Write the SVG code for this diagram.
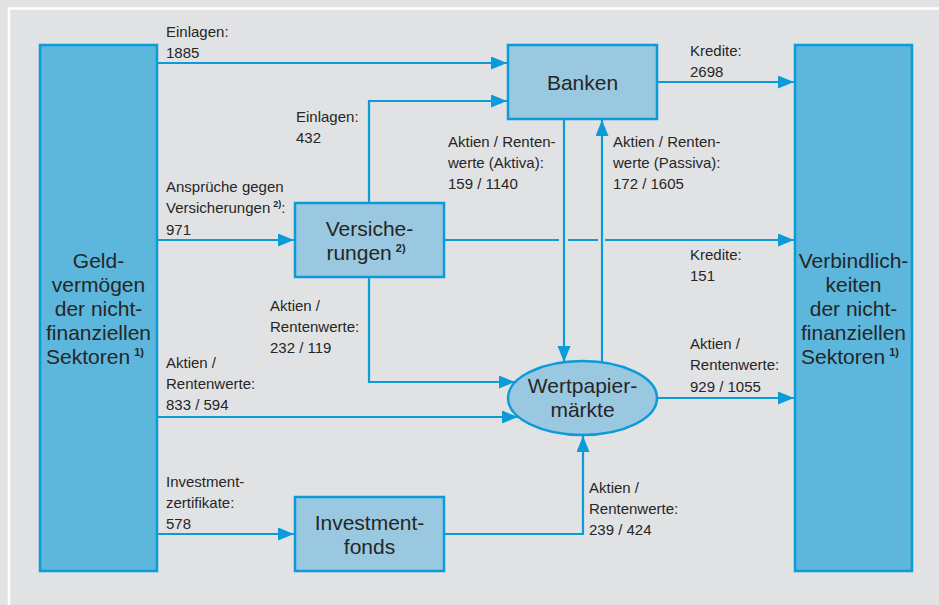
<svg xmlns="http://www.w3.org/2000/svg" width="939" height="605" viewBox="0 0 939 605">
<style>
.big{fill:#5db6dc;stroke:#0b9bd8;stroke-width:2.5}
.small{fill:#99c8e0;stroke:#0b9bd8;stroke-width:2.5}
.ln{fill:none;stroke:#0b9bd8;stroke-width:2.2}
.arr{marker-end:url(#ah)}
text{font-family:"Liberation Sans",Arial,sans-serif;fill:#262626}
.lbl{font-size:15px}
.nd{font-size:21px;text-anchor:middle}
.sup{font-size:11px;font-weight:bold}
</style>
<defs>
<marker id="ah" markerUnits="userSpaceOnUse" markerWidth="17" markerHeight="14" refX="16" refY="6.5" orient="auto">
<path d="M0,0 L16,6.5 L0,13 Z" fill="#0b9bd8"/>
</marker>
</defs>
<rect x="0" y="0" width="939" height="605" fill="#e1e2e4"/>
<path d="M9,605 V8.5 H939" fill="none" stroke="#ffffff" stroke-width="2.5"/>

<g id="connectors">
<path class="ln arr" d="M157,63 H507"/>
<path class="ln arr" d="M369,203 V101 H507"/>
<path class="ln arr" d="M157,240 H294"/>
<path class="ln" d="M444,240 H559 M568,240 H598"/>
<path class="ln arr" d="M605,240 H794"/>
<path class="ln arr" d="M564,119 V362"/>
<path class="ln arr" d="M602,362 V120"/>
<path class="ln arr" d="M657,82 H794"/>
<path class="ln arr" d="M369,277 V382 H515"/>
<path class="ln arr" d="M157,417 H518"/>
<path class="ln arr" d="M157,534 H294"/>
<path class="ln arr" d="M444,534 H583 V436"/>
<path class="ln arr" d="M657,398 H794"/>
</g>

<g id="geldvermoegen">
<rect class="big" x="40" y="45" width="117" height="526"/>
<text class="nd" x="98.5" y="268">Geld-</text>
<text class="nd" x="98.5" y="292">vermögen</text>
<text class="nd" x="98.5" y="316">der nicht-</text>
<text class="nd" x="98.5" y="340">finanziellen</text>
<text class="nd" x="95" y="364">Sektoren<tspan class="sup" dx="4" dy="-8">1)</tspan></text>
</g>

<g id="verbindlichkeiten">
<rect class="big" x="795" y="45" width="117" height="526"/>
<text class="nd" x="853.5" y="268">Verbindlich-</text>
<text class="nd" x="853.5" y="292">keiten</text>
<text class="nd" x="853.5" y="316">der nicht-</text>
<text class="nd" x="853.5" y="340">finanziellen</text>
<text class="nd" x="850" y="364">Sektoren<tspan class="sup" dx="4" dy="-8">1)</tspan></text>
</g>

<g id="banken">
<rect class="small" x="508" y="45" width="149" height="74"/>
<text class="nd" x="582.5" y="90">Banken</text>
</g>

<g id="versicherungen">
<rect class="small" x="295" y="203" width="149" height="74"/>
<text class="nd" x="369.5" y="236">Versiche-</text>
<text class="nd" x="366" y="260">rungen<tspan class="sup" dx="4" dy="-8">2)</tspan></text>
</g>

<g id="investmentfonds">
<rect class="small" x="295" y="497" width="149" height="74"/>
<text class="nd" x="369.5" y="530">Investment-</text>
<text class="nd" x="369.5" y="554">fonds</text>
</g>

<g id="wertpapiermaerkte">
<ellipse class="small" cx="582.5" cy="398" rx="74.5" ry="37"/>
<text class="nd" x="582.5" y="393">Wertpapier-</text>
<text class="nd" x="582.5" y="417">märkte</text>
</g>

<g id="labels" class="lbl">
<text class="lbl" x="166" y="37">Einlagen:</text>
<text class="lbl" x="166" y="58">1885</text>
<text class="lbl" x="296" y="122">Einlagen:</text>
<text class="lbl" x="296" y="143">432</text>
<text class="lbl" x="166" y="192">Ansprüche gegen</text>
<text class="lbl" x="166" y="213">Versicherungen<tspan class="sup" dx="3" dy="-6" style="font-size:9px">2)</tspan><tspan dy="6">:</tspan></text>
<text class="lbl" x="166" y="235">971</text>
<text class="lbl" x="448" y="147">Aktien / Renten-</text>
<text class="lbl" x="448" y="168">werte (Aktiva):</text>
<text class="lbl" x="448" y="189">159 / 1140</text>
<text class="lbl" x="613" y="147">Aktien / Renten-</text>
<text class="lbl" x="613" y="168">werte (Passiva):</text>
<text class="lbl" x="613" y="189">172 / 1605</text>
<text class="lbl" x="690" y="56">Kredite:</text>
<text class="lbl" x="690" y="77">2698</text>
<text class="lbl" x="690" y="260">Kredite:</text>
<text class="lbl" x="690" y="281">151</text>
<text class="lbl" x="270" y="311">Aktien /</text>
<text class="lbl" x="270" y="332">Rentenwerte:</text>
<text class="lbl" x="270" y="353">232 / 119</text>
<text class="lbl" x="166" y="368">Aktien /</text>
<text class="lbl" x="166" y="389">Rentenwerte:</text>
<text class="lbl" x="166" y="410">833 / 594</text>
<text class="lbl" x="166" y="487">Investment-</text>
<text class="lbl" x="166" y="508">zertifikate:</text>
<text class="lbl" x="166" y="529">578</text>
<text class="lbl" x="690" y="349">Aktien /</text>
<text class="lbl" x="690" y="370">Rentenwerte:</text>
<text class="lbl" x="690" y="392">929 / 1055</text>
<text class="lbl" x="589" y="493">Aktien /</text>
<text class="lbl" x="589" y="514">Rentenwerte:</text>
<text class="lbl" x="589" y="535">239 / 424</text>
</g>
</svg>
